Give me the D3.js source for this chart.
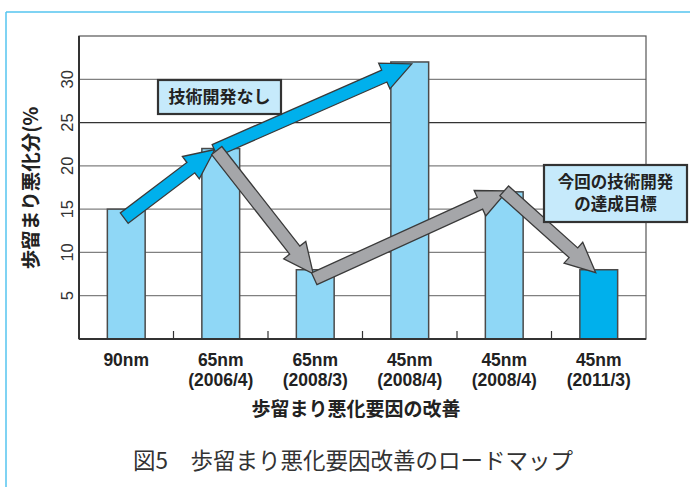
<!DOCTYPE html>
<html><head><meta charset="utf-8">
<script src="https://cdn.jsdelivr.net/npm/d3@7"></script>
<style>
html,body{margin:0;padding:0;background:#fff;}
svg{display:block;}
</style></head>
<body>
<svg id="c" width="690" height="487"></svg>
<script>
const categories = ["90nm", "65nm\n(2006/4)", "65nm\n(2008/3)", "45nm\n(2008/4)", "45nm\n(2008/4)", "45nm\n(2011/3)"];
const values = [15, 22, 8, 32, 17, 8];
const highlight = [false, false, false, false, false, true];
const yTicks = [5, 10, 15, 20, 25, 30];
// arrows between bar tops: [fromIndex, toIndex, kind]
const arrowFrom = [0, 1, 1, 2, 4];
const arrowTo   = [1, 3, 2, 4, 5];
const arrowKind = ["blue", "blue", "gray", "gray", "gray"];
const yTitle = "歩留まり悪化分(%";
const xTitle = "歩留まり悪化要因の改善";
const caption = "図5　歩留まり悪化要因改善のロードマップ";
const note1 = ["技術開発なし"];
const note2 = ["今回の技術開発", "の達成目標"];

const svg = d3.select("#c");
const M = {left: 79, top: 36, right: 646, bottom: 339};
const x = d3.scaleBand().domain(d3.range(categories.length)).range([M.left, M.right]).paddingInner(0.6).paddingOuter(0.3);
const xb = d3.scaleBand().domain(d3.range(categories.length)).range([M.left, M.right]);
const y = d3.scaleLinear().domain([0, 35]).range([M.bottom, M.top]);

// frame
svg.append("line").attr("x1", 6).attr("x2", 690).attr("y1", 12).attr("y2", 12).attr("stroke", "#55c5ef").attr("stroke-width", 1.5);
svg.append("line").attr("x1", 6).attr("x2", 6).attr("y1", 12).attr("y2", 487).attr("stroke", "#55c5ef").attr("stroke-width", 1.5);

// gridlines
svg.append("g").selectAll("line").data(yTicks).join("line")
  .attr("x1", M.left).attr("x2", M.right)
  .attr("y1", d => y(d)).attr("y2", d => y(d))
  .attr("stroke", d => d === 25 ? "#333" : "#808080").attr("stroke-width", 1.2);

// plot border
svg.append("rect").attr("x", M.left).attr("y", M.top).attr("width", M.right - M.left).attr("height", M.bottom - M.top)
  .attr("fill", "none").attr("stroke", "#555").attr("stroke-width", 1.2);

// y tick labels rotated
svg.append("g").selectAll("text").data(yTicks).join("text")
  .attr("transform", d => `translate(73,${y(d)}) rotate(-90)`)
  .attr("text-anchor", "middle")
  .attr("font-family", "Liberation Sans, Arial, sans-serif")
  .attr("font-size", 16.5).attr("fill", "#333")
  .text(d => d);

// bars
svg.append("g").selectAll("rect").data(values).join("rect")
  .attr("x", (d, i) => x(i)).attr("width", x.bandwidth())
  .attr("y", d => y(d)).attr("height", d => y(0) - y(d))
  .attr("fill", (d, i) => highlight[i] ? "#00b0ec" : "#8fd7f6")
  .attr("stroke", "#4a4a4a").attr("stroke-width", 1.5);

// axes lines
svg.append("line").attr("x1", M.left).attr("x2", M.left).attr("y1", M.top).attr("y2", M.bottom).attr("stroke", "#333").attr("stroke-width", 2);
svg.append("line").attr("x1", M.left).attr("x2", M.right).attr("y1", M.bottom).attr("y2", M.bottom).attr("stroke", "#333").attr("stroke-width", 2);
// x ticks (inside, at band boundaries)
svg.append("g").selectAll("line").data(d3.range(1, categories.length)).join("line")
  .attr("x1", i => xb(i)).attr("x2", i => xb(i))
  .attr("y1", M.bottom).attr("y2", M.bottom - 8)
  .attr("stroke", "#333").attr("stroke-width", 1.2);

// arrows
function arrowPath(x0, y0, x1, y1, w, h, L) {
  const dx = x1 - x0, dy = y1 - y0, len = Math.hypot(dx, dy);
  const ux = dx / len, uy = dy / len, nx = -uy, ny = ux;
  const cx = x1 - ux * L, cy = y1 - uy * L;
  const p = [
    [x0 + nx * w, y0 + ny * w], [cx + nx * w, cy + ny * w], [cx + nx * h, cy + ny * h],
    [x1, y1],
    [cx - nx * h, cy - ny * h], [cx - nx * w, cy - ny * w], [x0 - nx * w, y0 - ny * w]
  ];
  return "M" + p.map(q => q.join(",")).join("L") + "Z";
}
const ag = svg.append("g");
arrowFrom.forEach((f, k) => {
  const t = arrowTo[k];
  const cxF = x(f) + x.bandwidth() / 2, cxT = x(t) + x.bandwidth() / 2;
  let x0 = cxF, y0 = y(values[f]) + 4, x1 = cxT - 4, y1 = y(values[t]) + 2;
  if (k === 0) { x0 = cxF - 2; y0 = y(values[f]) + 9; x1 = cxT - 6; y1 = y(values[t]) + 1; }
  if (k === 1) { x0 = cxF - 6; y0 = y(values[f]) + 2; x1 = cxT + 2; y1 = y(values[t]) + 2; }
  if (k === 2) { x0 = cxF - 4; y0 = y(values[f]) + 2; x1 = cxT - 2; y1 = y(values[t]) + 4; }
  if (k === 3) { x0 = cxF - 1; y0 = y(values[f]) + 9; x1 = cxT + 3; y1 = y(values[t]) - 1; }
  if (k === 4) { x0 = cxF; y0 = y(values[f]) - 1; x1 = cxT - 3; y1 = y(values[t]) + 3; }
  ag.append("path")
    .attr("d", arrowPath(x0, y0, x1, y1, 6.5, 14, 30))
    .attr("fill", arrowKind[k] === "blue" ? "#00b0ec" : "#a5a6a9")
    .attr("stroke", "#3a3a3a").attr("stroke-width", 1.3).attr("stroke-linejoin", "miter");
});

// note boxes
function noteBox(bx, by, bw, bh, lines, fs, lh) {
  const g = svg.append("g");
  g.append("rect").attr("x", bx).attr("y", by).attr("width", bw).attr("height", bh)
    .attr("fill", "#c6eafb").attr("stroke", "#333").attr("stroke-width", 2.2);
  lines.forEach((s, i) => {
    g.append("text").attr("x", bx + bw / 2).attr("y", by + bh / 2 + (i - (lines.length - 1) / 2) * lh)
      .attr("dy", "0.36em").attr("text-anchor", "middle")
      .attr("font-family", "Noto Sans CJK JP, sans-serif").attr("font-weight", "bold")
      .attr("font-size", fs).attr("fill", "#222").text(s);
  });
}
noteBox(158, 80, 123, 34, note1, 17, 0);
noteBox(544, 165, 143, 57, note2, 16.5, 22);

// x labels
const xl = svg.append("g");
categories.forEach((c, i) => {
  const lines = c.split("\n");
  lines.forEach((s, j) => {
    xl.append("text").attr("x", xb(i) + xb.bandwidth() / 2).attr("y", 366 + j * 20)
      .attr("text-anchor", "middle")
      .attr("font-family", "Liberation Sans, Arial, sans-serif").attr("font-weight", "bold")
      .attr("font-size", 17.5).attr("fill", "#222").text(s);
  });
});

// axis titles
svg.append("text").attr("x", 356).attr("y", 416).attr("text-anchor", "middle")
  .attr("font-family", "Noto Sans CJK JP, sans-serif").attr("font-weight", "bold")
  .attr("font-size", 19).attr("fill", "#222").text(xTitle);
svg.append("text").attr("transform", "translate(38,188) rotate(-90)").attr("text-anchor", "middle")
  .attr("font-family", "Noto Sans CJK JP, sans-serif").attr("font-weight", "bold")
  .attr("font-size", 19.5).attr("fill", "#222").text(yTitle);

// caption
svg.append("text").attr("x", 353).attr("y", 469).attr("text-anchor", "middle")
  .attr("font-family", "Noto Sans CJK JP, sans-serif")
  .attr("font-size", 22.5).attr("fill", "#333").text(caption);
</script>
</body></html>
